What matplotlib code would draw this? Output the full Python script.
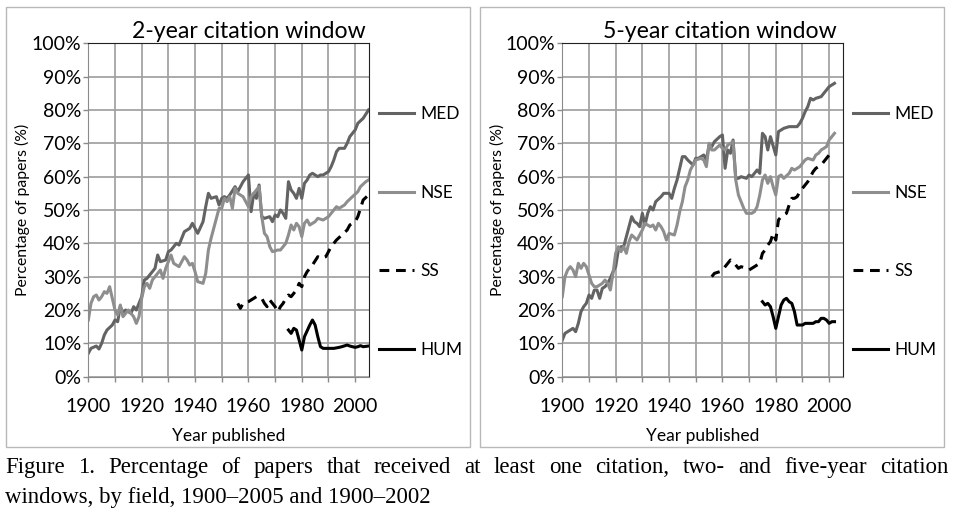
import matplotlib
matplotlib.use("Agg")
import matplotlib.pyplot as plt
from matplotlib.patches import Rectangle
from matplotlib.ticker import FixedLocator, FuncFormatter

# ---- data (percent of papers cited) ----
# 2-year citation window
med2_years = [1900, 1901, 1903, 1904, 1905, 1906, 1907, 1909, 1910, 1911, 1912, 1913, 1914, 1916,
              1917, 1918, 1920, 1921, 1922, 1923, 1925, 1926, 1927, 1929, 1930, 1931, 1933, 1934,
              1935, 1936, 1938, 1939, 1940, 1941, 1943, 1944, 1945, 1946, 1948, 1949, 1950, 1951,
              1952, 1953, 1955, 1956, 1957, 1958, 1960, 1961, 1962, 1963, 1964, 1965, 1966, 1968,
              1969, 1970, 1971, 1972, 1973, 1974, 1975, 1976, 1977, 1978, 1979, 1980, 1981, 1982,
              1983, 1984, 1986, 1987, 1988, 1990, 1991, 1992, 1993, 1994, 1996, 1997, 1998, 2000,
              2001, 2003, 2005]
med2 = [7, 8.5, 9.2, 8.3, 10, 12.5, 14, 15.5, 17, 16.5, 21, 19, 20, 19,
        21, 20, 24, 29, 29.5, 30.5, 32.5, 36.5, 34.5, 35, 37.5, 38, 40, 39.5,
        41.5, 43.5, 44.5, 46, 44.5, 43, 46.5, 51, 55, 53.5, 54, 51.5, 53.5, 54,
        53.5, 54.5, 57, 55.5, 57, 58.5, 60.5, 49.5, 55, 53.5, 57.5, 48, 47.5, 48,
        46.5, 48.5, 48, 50, 49, 47.5, 58.5, 56, 55, 53.5, 56.5, 53.5, 58, 59,
        60.5, 61, 60, 60.5, 60.5, 61.5, 63, 65, 67.5, 68.5, 68.5, 70, 72, 74,
        76, 77.5, 80]

nse2_years = [1900, 1901, 1902, 1903, 1904, 1905, 1906, 1907, 1908, 1909, 1910, 1911, 1912, 1913,
              1915, 1916, 1917, 1918, 1919, 1920, 1921, 1922, 1923, 1924, 1926, 1927, 1928, 1929,
              1930, 1931, 1932, 1933, 1934, 1936, 1937, 1938, 1939, 1940, 1941, 1943, 1944, 1945,
              1946, 1948, 1949, 1950, 1951, 1952, 1953, 1954, 1955, 1956, 1958, 1959, 1960, 1961,
              1963, 1964, 1965, 1966, 1967, 1968, 1969, 1971, 1972, 1973, 1974, 1975, 1976, 1977,
              1978, 1979, 1980, 1981, 1982, 1983, 1985, 1986, 1988, 1990, 1991, 1993, 1994, 1996,
              1997, 1999, 2001, 2002, 2004, 2005]
nse2 = [17, 22, 24, 24.5, 23, 24, 25.5, 25, 27, 23.5, 20, 18.5, 21.5, 18,
        20, 19, 18, 16, 18, 23.5, 27, 28, 26.5, 29, 31, 32, 29.5, 32.5,
        34.5, 36.5, 34, 33.5, 33, 36, 35, 33.5, 34, 31.5, 28.5, 28, 31, 38,
        41.5, 47.5, 50.5, 50.5, 53.5, 52.5, 54, 50.5, 56.5, 55, 54, 52.5, 51, 54,
        56, 57, 48, 43, 42, 39, 37.5, 38, 38, 39, 40, 42.5, 45.5, 44,
        46, 45, 42, 46, 47, 45.5, 46.5, 47.5, 47, 48, 49, 51, 50.5, 51.5,
        52.5, 54, 55.5, 57, 58.5, 59]

ss2_years = [1956, 1957, 1958, 1960, 1962, 1963, 1965, 1966, 1967, 1968, 1970, 1971, 1972, 1973,
             1974, 1975, 1976, 1978, 1979, 1980, 1981, 1982, 1983, 1984, 1986, 1987, 1989, 1990,
             1991, 1993, 1995, 1997, 1998, 2000, 2001, 2002, 2003, 2005]
ss2 = [22, 20.5, 22, 22.5, 23.5, 24, 23.5, 22, 21, 23, 21, 19.5, 21, 22,
       23.5, 24.5, 24, 26, 28, 27, 30, 31.5, 32.5, 33.5, 36, 35.5, 36, 37.5,
       39, 41, 42.5, 44, 45.5, 46.5, 48, 50.5, 53, 54.5]

hum2_years = [1975, 1976, 1977, 1978, 1979, 1980, 1981, 1983, 1984, 1985, 1986, 1987, 1988, 1990,
              1992, 1994, 1995, 1997, 1998, 2000, 2001, 2002, 2003, 2005]
hum2 = [14, 13, 14.5, 14, 11, 8, 12, 15.5, 17, 15.5, 12, 9, 8.5, 8.5,
        8.5, 8.8, 9, 9.5, 9.2, 8.8, 9, 9.3, 9, 9.2]

# 5-year citation window
med5_years = [1900, 1901, 1903, 1904, 1905, 1906, 1907, 1908, 1909, 1910, 1911, 1912, 1913, 1914,
              1915, 1916, 1917, 1918, 1919, 1920, 1921, 1922, 1923, 1924, 1925, 1926, 1927, 1928,
              1929, 1930, 1931, 1932, 1933, 1934, 1935, 1937, 1938, 1940, 1941, 1942, 1943, 1944,
              1945, 1946, 1947, 1949, 1950, 1951, 1953, 1954, 1955, 1956, 1957, 1959, 1960, 1961,
              1962, 1963, 1964, 1965, 1966, 1967, 1969, 1970, 1971, 1972, 1973, 1974, 1975, 1976,
              1977, 1978, 1980, 1981, 1982, 1983, 1985, 1986, 1988, 1989, 1990, 1991, 1992, 1993,
              1994, 1995, 1997, 1998, 1999, 2000, 2001, 2002]
med5 = [11, 13, 14, 14.5, 13.5, 16, 19.5, 21, 22, 24.5, 23.5, 26, 26, 23.5,
        26.5, 27, 28, 29.5, 31.5, 33, 38, 39, 39, 42, 45, 48, 46.5, 46,
        45, 49, 45.5, 49, 51, 50, 52.5, 54, 55, 55, 53.5, 56.5, 59, 62.5,
        66, 66, 65, 63.5, 65.5, 65.5, 66.5, 65, 69.5, 69, 70.5, 72, 72.5, 62.5,
        68, 67, 71, 59.5, 59.5, 60, 59.5, 60.5, 60, 61, 62, 61, 73, 72,
        68, 72, 66.5, 73.5, 74, 74.5, 75, 75, 75, 76, 77.5, 79.5, 81, 83.5,
        83, 83.5, 84, 85, 86, 87, 87.5, 88]

nse5_years = [1900, 1901, 1902, 1903, 1904, 1905, 1906, 1907, 1908, 1909, 1910, 1911, 1912, 1913,
              1914, 1915, 1916, 1917, 1918, 1919, 1920, 1921, 1922, 1923, 1924, 1925, 1926, 1928,
              1929, 1930, 1931, 1932, 1933, 1934, 1935, 1936, 1937, 1938, 1939, 1940, 1942, 1943,
              1944, 1945, 1946, 1947, 1948, 1949, 1950, 1952, 1953, 1954, 1955, 1956, 1957, 1959,
              1960, 1961, 1962, 1964, 1965, 1966, 1967, 1968, 1969, 1971, 1972, 1973, 1974, 1975,
              1976, 1977, 1978, 1979, 1980, 1981, 1982, 1983, 1985, 1986, 1987, 1989, 1990, 1991,
              1992, 1994, 1995, 1996, 1997, 1999, 2000, 2001, 2002]
nse5 = [24, 30, 32, 33, 32, 30, 34, 32.5, 34, 33, 30.5, 28, 27, 27,
        27.5, 28, 29, 28, 26, 31, 37, 39, 37.5, 39, 37, 40.5, 42.5, 41,
        42.5, 44, 46, 45.5, 45, 45.5, 44, 46, 45, 43.5, 41, 43, 42.5, 45.5,
        49.5, 52.5, 57, 59, 62, 63.5, 65, 65.5, 65, 63, 70, 68, 68, 69.5,
        68.5, 68, 69.5, 70.5, 59, 54.5, 52.5, 50.5, 49, 49, 49.5, 51, 54.5, 59,
        60.5, 58, 60, 57, 54.5, 60, 60.5, 59.5, 61, 62.5, 62, 63, 64, 65,
        65.5, 65, 66.5, 67, 68, 69, 71, 72, 73]

ss5_years = [1956, 1957, 1959, 1960, 1961, 1963, 1964, 1965, 1966, 1967, 1969, 1970, 1971, 1972,
             1974, 1975, 1976, 1977, 1978, 1979, 1980, 1981, 1982, 1984, 1985, 1986, 1987, 1988,
             1989, 1990, 1992, 1993, 1994, 1995, 1997, 1998, 1999, 2000, 2001, 2002]
ss5 = [30, 31, 31.5, 32, 33, 35, 34.5, 33.5, 32.5, 33, 32.5, 32, 32.5, 33,
       34, 37, 38, 39.5, 40.5, 43, 41, 47, 48, 49, 51.5, 53.5, 53.5, 54,
       55.5, 56.5, 58.5, 60, 61.5, 62.5, 63.5, 64.5, 65.5, 66.5, 67, 67.5]

hum5_years = [1975, 1976, 1977, 1978, 1979, 1980, 1981, 1982, 1983, 1984, 1985, 1986, 1987, 1988,
              1989, 1990, 1991, 1992, 1994, 1995, 1996, 1997, 1998, 1999, 2000, 2001, 2002]
hum5 = [22.5, 21.5, 22, 21, 18, 14.5, 18, 21.5, 23, 23.5, 22.5, 22, 19.5, 15.5,
        15.5, 15.5, 16, 16, 16, 16.5, 16.5, 17.5, 17.5, 17, 16, 16.5, 16.5]

fields = ["MED", "NSE", "SS", "HUM"]
titles = ["2-year citation window", "5-year citation window"]
caption1 = "Figure 1. Percentage of papers that received at least one citation, two- and five-year citation"
caption2 = "windows, by field, 1900\u20132005 and 1900\u20132002"

panels = [
    [(med2_years, med2), (nse2_years, nse2), (ss2_years, ss2), (hum2_years, hum2)],
    [(med5_years, med5), (nse5_years, nse5), (ss5_years, ss5), (hum5_years, hum5)],
]

styles = {
    "MED": dict(color="#636363", lw=2.2, ls="-"),
    "NSE": dict(color="#8e8e8e", lw=2.2, ls="-"),
    "SS": dict(color="black", lw=2.2, ls=(0, (3.2, 2.2))),
    "HUM": dict(color="black", lw=2.2, ls="-"),
}

W, H = 955, 512
plt.rcParams["font.family"] = ["Lato", "DejaVu Sans"]
fig = plt.figure(figsize=(W / 100, H / 100), dpi=100)

# chart frames
for bx in (6, 480):
    fig.patches.append(Rectangle((bx / W, 1 - 447 / H), 464 / W, 440 / H, transform=fig.transFigure,
                                 fill=False, edgecolor="#b8b8b8", lw=1))

ax_left_px = [88.3, 562.3]
title_x_px = [249, 720]
for i, series in enumerate(panels):
    ax = fig.add_axes([ax_left_px[i] / W, 1 - 376.7 / H, 280.2 / W, 333.4 / H])
    for name, (yrs, vals) in zip(fields, series):
        ax.plot(yrs, vals, label=name, solid_joinstyle="round", dash_capstyle="butt", **styles[name])
    ax.set_xlim(1900, 2005)
    ax.set_ylim(0, 100)
    ax.xaxis.set_major_locator(FixedLocator(list(range(1900, 2001, 10))))
    ax.xaxis.set_major_formatter(FuncFormatter(lambda v, p: "%d" % v if int(round(v)) % 20 == 0 else ""))
    ax.yaxis.set_major_locator(FixedLocator(list(range(0, 101, 10))))
    ax.yaxis.set_major_formatter(FuncFormatter(lambda v, p: "%d%%" % v))
    ax.grid(True, color="#a0a0a0", lw=1.25)
    ax.set_axisbelow(True)
    ax.tick_params(axis="both", direction="out", length=3.5, width=1, color="#8a8a8a",
                   labelsize=14, labelcolor="black")
    ax.tick_params(axis="x", pad=11.5)
    ax.tick_params(axis="y", pad=1.5)
    for s in ("left", "bottom"):
        ax.spines[s].set_color("#8a8a8a")
    for s in ("top", "right"):
        ax.spines[s].set_color("#202020")
    ax.set_xlabel("Year published", fontsize=12.5, labelpad=10)
    ax.set_ylabel("Percentage of papers (%)", fontsize=11.3)
    ax.yaxis.set_label_coords((22 + 475 * i - ax_left_px[i]) / 280.2, 0.5)
    ax.yaxis.label.set_va("center")
    ax.legend(loc="center left", bbox_to_anchor=(1.039, 0.434), frameon=False, fontsize=12.5,
              borderpad=0, borderaxespad=0, handlelength=2.0, handletextpad=0.35,
              labelspacing=3.6)
    fig.text(title_x_px[i] / W, 1 - 31 / H, titles[i], ha="center", va="center", fontsize=16.6)

# caption, first line justified between the frame edges
cap_kw = dict(fontsize=16.5, family=["Liberation Serif", "DejaVu Serif"], va="baseline")
renderer = fig.canvas.get_renderer()
words = caption1.split(" ")
texts = [fig.text(0, 1 - 473 / H, w, **cap_kw) for w in words]
widths = [t.get_window_extent(renderer).width for t in texts]
x0, x1 = 5, 948
gap = ((x1 - x0) - sum(widths)) / (len(words) - 1)
x = x0
for t, w in zip(texts, widths):
    t.set_x(x / W)
    x += w + gap
fig.text(x0 / W, 1 - 503 / H, caption2, **cap_kw)

fig.savefig("out.png", dpi=100)
